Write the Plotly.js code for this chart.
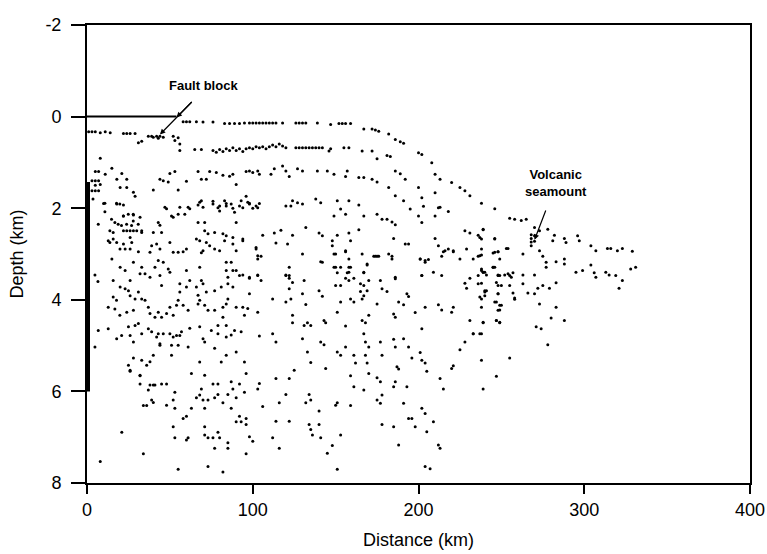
<!DOCTYPE html>
<html>
<head>
<meta charset="utf-8">
<script src="https://cdn.plot.ly/plotly-3.0.1.min.js"></script>
<style>html,body{margin:0;padding:0;background:#fff;}#chart{width:767px;height:554px;}</style>
</head>
<body>
<div id="chart"></div>
<script>
// ---- axis ticks ----
const xTicks = [0, 100, 200, 300, 400];
const yTicks = [-2, 0, 2, 4, 6, 8];

// ---- solid seafloor segment and borehole bar (distance km, depth km) ----
const seafloorLineX = [0, 54];
const seafloorLineZ = [0, 0];
const wellX = [0, 0];
const wellZ = [1.43, 6.0];

// ---- reflector dots: [distance km, depth km] ----
const seafloorDots = [[58,0.11],[60,0.11],[62,0.11],[66,0.11],[70,0.12],[76,0.12],[83,0.15],[86,0.15],[89,0.15],[92,0.15],[95,0.14],[98,0.14],[100,0.14],[102,0.14],[104,0.14],[106,0.14],[108,0.14],[110,0.14],[112,0.14],[114,0.14],[118,0.14],[126,0.14],[128,0.14],[130,0.14],[132,0.14],[139,0.14],[147,0.17],[152,0.15],[154,0.15],[156,0.15],[159,0.15],[167,0.27],[172,0.27],[174,0.29],[176,0.32],[182,0.38],[186,0.5],[189,0.55],[191,0.58],[200,0.79],[202,0.83],[208,1.01],[210,1.26],[213,1.37],[220,1.44],[225,1.55],[228,1.62],[231,1.73],[238,1.89],[246,2.01],[255,2.22],[258,2.24],[262,2.27],[265,2.24],[270,2.42],[273,2.49],[278,2.46],[282,2.59],[288,2.66],[296,2.6],[297,2.71],[304,2.82],[307,2.93],[314,2.88],[316,2.88],[320,2.93],[323,2.88],[329,2.94]];
const faultBlockDots = [[1,0.33],[3,0.33],[5,0.33],[8,0.35],[11,0.33],[14,0.35],[22,0.37],[24,0.37],[26,0.37],[29,0.37],[37,0.43],[39,0.43],[40,0.45],[42,0.43],[43,0.47],[44,0.43],[46,0.45],[31,0.57],[33,0.54],[52,0.43],[55,0.46],[53,0.52],[56,0.6]];
const reflector1 = [[56,0.74],[65,0.72],[69,0.72],[76,0.74],[78,0.78],[80,0.72],[82,0.76],[84,0.7],[86,0.74],[88,0.68],[90,0.74],[92,0.7],[94,0.76],[96,0.7],[98,0.68],[100,0.7],[102,0.66],[104,0.68],[106,0.66],[108,0.7],[110,0.66],[112,0.62],[114,0.66],[116,0.6],[118,0.64],[120,0.68],[126,0.68],[128,0.68],[130,0.68],[132,0.68],[134,0.68],[136,0.68],[138,0.68],[140,0.68],[142,0.68],[146,0.75],[147,0.7],[155,0.68],[158,0.68],[166,0.75],[172,0.75],[175,0.92],[181,0.85],[183,0.87]];
const reflector2 = [[5,1.2],[7,1.2],[15,1.13],[11,1.26],[21,1.24],[18,1.37],[24,1.37],[20,1.55],[24,1.55],[28,1.65],[29,1.74],[44,1.37],[46,1.4],[49,1.43],[53,1.2],[50,1.24],[60,1.41],[67,1.2],[69,1.37],[72,1.37],[74,1.2],[78,1.22],[82,1.28],[86,1.3],[88,1.26],[90,1.48],[96,1.2],[100,1.22],[104,1.26],[98,1.19],[103,1.19],[111,1.26],[113,1.14],[118,1.08],[120,1.19],[122,1.31],[127,1.14],[130,1.19],[139,1.19],[145,1.19],[149,1.26],[156,1.31],[157,1.19],[164,1.33],[167,1.33],[172,1.37],[175,1.43],[186,1.19],[189,1.25],[192,1.37],[200,1.55],[202,1.77],[210,1.66],[213,1.98],[218,2.07],[8,0.91],[40,1.6],[55,1.6],[96,1.74],[8,1.48],[3.6,1.8],[3,1.4],[5,1.4],[7,1.4],[5,1.5],[3,1.62],[5,1.62],[7,1.62]];
const reflector3 = [[10,1.9],[18,1.91],[22,1.93],[22,2.17],[28,2.15],[32,2.2],[47,1.98],[51,2.17],[56,1.98],[61,1.98],[68,1.87],[70,1.98],[76,1.85],[80,1.95],[84,1.9],[88,2.0],[92,1.95],[97,1.87],[100,2.0],[104,1.9],[98,1.89],[103,1.99],[120,1.95],[123,1.95],[124,1.84],[127,1.88],[130,1.91],[138,1.8],[141,1.88],[151,1.84],[153,2.02],[149,2.17],[156,2.13],[158,1.84],[164,1.93],[167,2.17],[175,2.13],[178,2.24],[181,2.24],[184,2.3],[186,2.36],[182,1.55],[186,1.73],[191,1.84],[195,2.02],[200,2.17],[202,2.31],[203,1.96],[210,2.17],[212,1.99]];

// ---- scattered diffraction dots ----
const scatterWest = [[10.8,1.89],[10.8,2.08],[17.8,1.89],[19.8,1.91],[48,2.01],[52,2.2],[55,2.13],[59,2.13],[62,2.01],[67,1.93],[69,1.84],[76,1.91],[79,1.99],[80,2.06],[83,1.84],[84,1.95],[87,1.91],[89,2.09],[93,1.84],[94,1.99],[98,1.91],[102,1.95],
[6.8,2.35],[14.8,2.24],[16.8,2.31],[18.8,2.35],[20.8,2.38],[13.8,2.49],[15.8,2.53],[21.9,2.17],[24.9,2.13],[27.9,2.13],[27.9,2.28],[22,2.49],[24,2.49],[26,2.49],[28,2.49],[30,2.49],[33,2.49],[23.9,2.35],[26.9,2.38],[30.9,2.35],[33,2.53],[40,2.53],[45,2.53],[43,2.31],[44,2.37],[67,2.31],[71,2.31],[71,2.49],[73,2.56],[77,2.53],[90,2.31],[84,2.6],[88,2.64],[94,2.67],[82,2.56],
[13.8,2.75],[15.8,2.67],[12.8,2.71],[17.9,2.75],[19.9,2.89],[23,2.89],[26,2.89],[22,2.78],[27,2.75],[26,2.64],[31,2.95],[38,2.96],[39,2.82],[42,2.78],[44,2.89],[50,2.75],[52,2.96],[55,2.96],[58,2.95],[60,2.89],[66,2.67],[68,2.71],[70,2.93],[69,2.97],[72,2.75],[74,2.82],[77,2.89],[80,2.93],[83,2.71],[88,2.78],[90,2.93],[94,2.71],[102,2.89],
[15,3.11],[20,3.29],[23,3.36],[28,3.18],[33,3.29],[35,3.43],[38,3.51],[32,3.43],[4.8,3.46],[6.6,3.6],[15.8,3.58],[26,3.58],[41,3.29],[43,3.14],[46,3.18],[49,3.33],[50,3.4],[44,3.47],[45,3.69],[60,3.36],[62,3.58],[56,3.65],[60,3.72],[68,3.29],[69,3.58],[70,3.65],[66,3.72],[67,3.9],[72,3.83],[84,3.18],[87,3.18],[84,3.36],[85,3.51],[88,3.36],[90,3.36],[94,3.46],[92,3.47],[98,3.51],[77,3.8],[81,3.72],[85,3.65],[85,3.98],[88,3.72],
[15.8,3.94],[17.8,4.01],[12.8,4.16],[16.8,4.2],[19.8,4.34],[23,3.76],[20,3.72],[25,3.8],[26,3.91],[29,3.98],[33,3.98],[31,3.83],[24,4.27],[28,4.23],[35,4.01],[37,4.16],[38,4.3],[41,4.38],[43,4.27],[45,4.38],[48,4.3],[50,4.16],[52,4.34],[55,4.01],[54,4.12],[58,4.12],[61,4.23],[56,3.83],[67,4.09],[68,4.01],[71,4.12],[73,4.23],[77,4.23],[82,4.16],[84,4.09],[90,4.16],[94,4.16],[95,4.34],[97,4.19],[82,4.38],
[6.8,4.67],[12.8,4.63],[17.9,4.85],[20.9,4.78],[26,4.78],[28,4.92],[25,4.59],[29,4.56],[31,4.52],[33,4.74],[37,4.63],[39,4.7],[42,4.81],[44,4.96],[43,4.74],[46,4.74],[50,4.74],[52,4.81],[54,4.78],[56,4.78],[57,4.7],[62,4.62],[68,4.59],[70,4.85],[71,4.92],[75,4.67],[79,4.56],[84,4.56],[89,4.67],[87,4.77],[93,4.7],[84,4.81],[79,4.74],[4.8,5.03],[44,4.99],[51,4.99],[55,4.99],[61,5.03],[77,5.06],
[28,5.27],[33,5.32],[38,5.35],[40,5.21],[36,5.43],[25,5.43],[26,5.54],[32,5.65],[51,5.21],[63,5.61],[68,5.36],[71,5.65],[84,5.21],[81,5.36],[90,5.14],[95,5.36],[96,5.61]];

const scatterWestDeep = [[26,5.56],[32,5.66],[32,5.84],[38,5.86],[40,5.86],[41,5.86],[45,5.84],[48,5.84],[37,5.97],[39,6.19],[40,6.24],[34,6.31],[36,6.31],[48,6.3],[52,6.19],[53,6.02],[53,6.37],[63,6.37],[58,6.59],[60,6.54],[69,5.95],[66,6.14],[68,6.08],[70,6.19],[73,6.19],[71,6.37],[76,5.84],[79,5.84],[77,6.14],[79,6.07],[82,6.25],[85,6.07],[87,5.79],[88,5.95],[92,5.84],[90,6.14],[87,6.37],[95,6.02],[103,5.95],[90,6.66],[92,6.54],[93,6.66],[96,6.59],[96,6.72],[52,6.77],[53,7.01],[60,7.06],[61,7.01],[71,6.77],[71,6.95],[73,7.01],[76,7.01],[79,6.89],[80,7.01],[77,7.24],[85,7.12],[85,7.24],[96,7.36],[21,6.89],[34,7.36],[8,7.53],[55,7.7],[73,7.64],[82,7.76]];

const scatterCentral = [[106,2.59],[113,2.54],[117,2.48],[124,2.59],[132,2.42],[140,2.54],[142,2.6],[151,2.59],[148,2.71],[148,2.82],[158,2.54],[159,2.71],[164,2.47],[185,2.66],[192,2.78],[194,2.78],[210,2.66],[212,2.82],[215,2.95],[218,2.89],[221,2.95],[228,2.49],[231,2.54],[236,2.59],[238,2.67],[239,2.47],[246,2.66],[253,2.88],[248,2.95],[237,3.04],[229,2.89],
[102,2.86],[103,3.04],[114,2.76],[121,2.78],[130,3.0],[141,3.17],[149,3.0],[156,2.95],[166,3.0],[173,3.05],[176,3.05],[182,3.0],[184,3.11],[201,3.11],[204,3.14],[202,3.47],
[103,3.47],[122,3.29],[122,3.47],[150,3.29],[153,3.29],[158,3.29],[158,3.4],[167,3.4],[169,3.22],[186,3.51],[214,3.47],[238,3.36],[240,3.4],[245,3.29],[248,3.47],
[98,3.87],[103,4.27],[104,4.79],[112,4.74],[114,4.92],[112,3.98],[120,4.05],[123,3.98],[122,3.76],[124,3.62],[120,3.47],
[130,3.87],[132,4.1],[131,3.58],[124,4.34],[124,4.5],[130,4.85],[131,4.56],[133,4.5],[135,4.56],
[140,3.8],[142,3.92],[143,4.45],[144,4.5],[141,4.92],[143,4.98],[133,5.14],[135,5.37],[144,5.5],[151,5.14],[153,5.21],[156,5.03],[151,4.27],[153,4.05],[156,4.57],[150,3.69],[153,3.69],
[159,3.98],[161,4.05],[165,3.82],[166,3.98],[167,3.91],[169,3.8],[170,3.58],[167,3.69],[166,4.45],[168,4.5],[170,4.34],[167,4.74],[168,4.92],[170,5.03],[168,5.21],[169,5.38],[161,5.21],[162,5.38],[159,5.66],[161,5.9],[167,5.97],[170,5.61],
[175,4.09],[177,4.92],[178,5.21],[175,5.7],[177,5.79],[178,6.08],[175,6.19],[177,6.26],[185,4.86],[186,5.03],[185,5.9],[186,5.79],[188,5.51],[187,5.46],[185,4.31],[186,4.38],[188,4.05],[191,4.11],[193,3.87],[194,3.93],[175,3.05],[186,3.54],[178,3.76],[181,3.82],
[191,4.85],[194,5.03],[196,5.27],[193,5.9],[191,6.26],[185,6.77],[188,7.17],[202,4.63],[201,5.15],[202,5.32],[204,5.38],[205,5.56],[198,4.28],[202,6.37],[204,6.48],[209,6.66],[196,6.59],[198,6.77],[194,6.59],[205,6.88],[212,7.17],[213,7.24],[204,7.64],[207,7.69],
[204,4.16],[212,4.11],[214,4.22],[220,4.27],[221,4.16],[225,5.09],[228,4.92],[233,4.74],[237,4.74],[220,5.5],[221,5.44],[213,5.72],[215,5.95],[238,5.32],[239,5.95],[247,5.67],[231,4.45],[239,4.5],
[228,3.64],[229,3.75],[231,3.53],[238,3.64],[238,3.98],[238,4.16],[240,3.83],[241,3.8],[247,3.62],[248,3.87],[247,4.05],[249,4.22],[250,4.12],[247,4.45],[249,4.5],[249,3.47],[250,3.69],[254,3.43],[239,3.4],[241,3.46],[238,3.33],[246,3.29],[249,3.11],[246,2.96],[236,3.05],[233,3.11],[225,3.11],[221,2.93],[216,2.93],[214,3.05],[209,3.4],[202,3.47],[201,3.11],[204,3.18],[206,3.12],
[150,3.0],[156,2.93],[174,3.05],[184,3.05],[142,3.18],[149,3.29],[159,3.29],[158,3.11],[151,3.41],[157,3.41],[156,3.53],[158,3.58],[161,3.53],[167,3.41],[169,3.24],[165,3.65],[177,3.58],[103,3.11],[105,3.05],[98,3.53],[103,3.46],[105,3.58],[120,3.46],[122,3.53]];

const scatterCentralDeep = [[104,5.83],[106,6.33],[114,5.72],[122,5.72],[125,5.54],[120,6.07],[116,6.25],[114,6.65],[122,6.65],[112,7.01],[116,7.24],[134,6.07],[135,6.19],[132,6.25],[140,6.43],[134,6.72],[135,6.83],[136,6.95],[140,6.72],[141,7.01],[153,6.95],[148,7.18],[145,7.35],[151,7.7],[150,6.3],[151,6.25],[159,6.31],[178,6.72],[98,6.99],[100,7.09]];

const scatterSeamount = [[239,2.46],[237,2.64],[246,2.67],[238,2.89],[238,3.02],[245,2.98],[248,2.95],[254,2.88],[263,3.0],[273,2.93],[275,3.05],[277,3.18],[283,3.17],[288,3.11],[288,3.22],[277,3.29],[281,2.71],[289,2.75],[328,3.33],[331,3.29],[304,3.24],[306,3.41],[307,3.51],[295,3.4],[299,3.36],[313,3.4],[315,3.46],[319,3.47],[321,3.75],[323,3.58],[239,3.4],[236,3.47],[240,3.8],[240,3.91],[236,3.65],[237,3.94],[245,3.29],[248,3.46],[248,3.69],[248,3.87],[246,4.05],[249,4.12],[248,4.23],[252,3.46],[255,3.47],[257,3.41],[256,3.51],[263,3.46],[270,3.46],[255,3.69],[257,3.85],[258,3.96],[263,3.65],[266,3.85],[270,3.87],[272,3.75],[275,3.69],[279,3.75],[283,3.63],[273,4.09],[283,4.16],[280,4.4],[288,4.45],[271,4.59],[274,4.63],[239,4.49],[238,4.74],[247,4.45],[249,4.49],[278,4.98],[258,3.99],[233,4.74],[255,5.27],
[268,2.58],[268,2.66],[268,2.74],[268,2.82],[270,2.6],[270,2.72]];

// ---- annotation texts ----
const labelFault = 'Fault block';
const labelSeamount = 'Volcanic<br>seamount';

const groups = [seafloorDots, faultBlockDots, reflector1, reflector2, reflector3,
  scatterWest, scatterWestDeep, scatterCentral, scatterCentralDeep, scatterSeamount];
const dotX = [], dotZ = [];
groups.forEach(g => g.forEach(p => { dotX.push(p[0]); dotZ.push(p[1]); }));

const FONT = 'Liberation Sans, Arial, sans-serif';

const traces = [
  {x: dotX, y: dotZ, type: 'scatter', mode: 'markers',
   marker: {color: '#000', size: 3}, hoverinfo: 'skip'},
  {x: seafloorLineX, y: seafloorLineZ, type: 'scatter', mode: 'lines',
   line: {color: '#000', width: 2}, hoverinfo: 'skip'},
  {x: wellX, y: wellZ, type: 'scatter', mode: 'lines',
   line: {color: '#000', width: 6}, hoverinfo: 'skip'}
];

const arrowBase = {xref: 'x', yref: 'y', axref: 'x', ayref: 'y', showarrow: true,
  arrowhead: 2, arrowsize: 0.9, arrowwidth: 1.2, arrowcolor: '#000', standoff: 0,
  text: ' ', font: {size: 1}, borderpad: 0};

const layout = {
  width: 767, height: 554,
  margin: {l: 87, r: 17, t: 25, b: 71, pad: 0},
  paper_bgcolor: '#fff', plot_bgcolor: '#fff',
  showlegend: false,
  font: {family: FONT, color: '#000'},
  xaxis: {
    range: [0, 400], tickvals: xTicks, ticktext: xTicks.map(String),
    ticks: 'outside', ticklen: 9, tickwidth: 2, tickcolor: '#000',
    showline: true, linewidth: 2, linecolor: '#000', mirror: true,
    showgrid: false, zeroline: false,
    tickfont: {family: FONT, size: 18, color: '#000'},
    title: {text: 'Distance (km)', font: {family: FONT, size: 18, color: '#000'}, standoff: 15}
  },
  yaxis: {
    range: [8, -2], tickvals: yTicks, ticktext: yTicks.map(String),
    ticks: 'outside', ticklen: 14, tickwidth: 2, tickcolor: '#000',
    showline: true, linewidth: 2, linecolor: '#000', mirror: true,
    showgrid: false, zeroline: false, ticklabelstandoff: 6,
    tickfont: {family: FONT, size: 18, color: '#000'},
    title: {text: 'Depth (km)', font: {family: FONT, size: 18, color: '#000'}, standoff: 17}
  },
  annotations: [
    {x: 70, y: -0.68, xref: 'x', yref: 'y', text: labelFault, showarrow: false,
     font: {family: FONT, size: 13, color: '#000', weight: 'bold'}},
    Object.assign({}, arrowBase, {x: 54, y: 0.02, ax: 63.5, ay: -0.33}),
    Object.assign({}, arrowBase, {x: 44, y: 0.39, ax: 63.5, ay: -0.33}),
    {x: 283, y: 1.44, xref: 'x', yref: 'y', text: labelSeamount, showarrow: false,
     font: {family: FONT, size: 13, color: '#000', weight: 'bold'}},
    Object.assign({}, arrowBase, {x: 270, y: 2.69, ax: 277, ay: 2.03})
  ]
};

Plotly.newPlot('chart', traces, layout, {displayModeBar: false, staticPlot: true});
</script>
</body>
</html>
